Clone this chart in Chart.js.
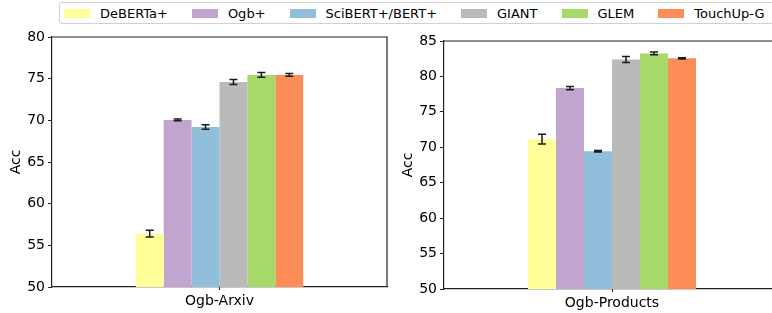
<!DOCTYPE html>
<html>
<head>
<meta charset="utf-8">
<script src="https://cdn.jsdelivr.net/npm/chart.js@4.4.1/dist/chart.umd.min.js"></script>
<style>
  html, body { margin: 0; padding: 0; background: #fff; overflow: hidden; width: 772px; height: 313px; }
  .panel { position: absolute; top: 0; height: 313px; }
  #left { left: 0; width: 390px; }
  #right { left: 390px; width: 390px; }
  #legend {
    position: absolute; left: 59px; top: 2px; height: 20px; width: 760px;
    border: 1px solid #d0d0d0; border-radius: 3px; background: #fff;
    display: flex; align-items: center; padding-left: 4px;
    font-family: "DejaVu Sans", sans-serif; font-size: 13px; color: #000; z-index: 2;
  }
  .item { display: flex; align-items: center; margin-right: 24px; white-space: nowrap; }
  .swatch { width: 26px; height: 9px; margin-right: 10px; }
</style>
</head>
<body>
<div id="legend"></div>
<div class="panel" id="left"><canvas id="arxiv"></canvas></div>
<div class="panel" id="right"><canvas id="products"></canvas></div>
<script>
// series and values
const methods = ['DeBERTa+', 'Ogb+', 'SciBERT+/BERT+', 'GIANT', 'GLEM', 'TouchUp-G']
const colors = ['#ffff99', '#c2a5cf', '#91bfdb', '#bababa', '#a6d96a', '#fc8d59']

const arxivLabels = ['Ogb-Arxiv']
const arxivAcc = [56.4, 70.05, 69.2, 74.6, 75.45, 75.45]
const arxivErr = [0.4, 0.1, 0.26, 0.3, 0.28, 0.16]
const arxivTicks = [50, 55, 60, 65, 70, 75, 80]

const productsLabels = ['Ogb-Products']
const productsAcc = [71.15, 78.35, 69.45, 82.4, 83.25, 82.55]
const productsErr = [0.68, 0.23, 0.1, 0.42, 0.2, 0.1]
const productsTicks = [50, 55, 60, 65, 70, 75, 80, 85]

Chart.defaults.font.family = '"DejaVu Sans", sans-serif'
Chart.defaults.color = '#000'

// html legend shared by both panels
const legend = document.getElementById('legend')
methods.forEach((m, i) => {
  const item = document.createElement('div')
  item.className = 'item'
  item.innerHTML = `<span class="swatch" style="background:${colors[i]}"></span><span>${m}</span>`
  legend.appendChild(item)
})

// error bars on top of each bar
const errorBars = {
  id: 'errorBars',
  afterDatasetsDraw(chart, args, opts) {
    const ctx = chart.ctx
    const y = chart.scales.y
    ctx.save()
    ctx.strokeStyle = '#1a1a1a'
    ctx.lineWidth = 1.5
    chart.data.datasets.forEach((ds, i) => {
      const bar = chart.getDatasetMeta(i).data[0]
      const v = ds.data[0], e = opts.errors[i]
      const top = y.getPixelForValue(v + e)
      const bot = y.getPixelForValue(v - e)
      ctx.beginPath()
      ctx.moveTo(bar.x, top); ctx.lineTo(bar.x, bot)
      ctx.moveTo(bar.x - 4, top); ctx.lineTo(bar.x + 4, top)
      ctx.moveTo(bar.x - 4, bot); ctx.lineTo(bar.x + 4, bot)
      ctx.stroke()
    })
    ctx.restore()
  }
}

// top and right spines
const frame = {
  id: 'frame',
  afterDraw(chart) {
    const {ctx, chartArea: a} = chart
    ctx.save()
    ctx.strokeStyle = '#222'
    ctx.lineWidth = 1.2
    ctx.beginPath()
    ctx.moveTo(a.left, a.top); ctx.lineTo(a.right, a.top); ctx.lineTo(a.right, a.bottom)
    ctx.stroke()
    ctx.restore()
  }
}

function makeChart(id, labels, acc, err, ticks, pad, yWidth, xHeight, titlePad) {
  return new Chart(document.getElementById(id), {
    type: 'bar',
    data: {
      labels: labels,
      datasets: methods.map((m, i) => ({
        label: m,
        data: [acc[i]],
        backgroundColor: colors[i],
        borderWidth: 0
      }))
    },
    options: {
      responsive: true,
      maintainAspectRatio: false,
      animation: false,
      categoryPercentage: 0.5,
      barPercentage: 1.0,
      layout: { padding: pad },
      plugins: {
        legend: { display: false },
        tooltip: { enabled: false },
        errorBars: { errors: err }
      },
      scales: {
        x: {
          grid: { display: true, drawOnChartArea: false, offset: false, tickLength: 3, color: '#222' },
          border: { color: '#222', width: 1.2 },
          ticks: { font: { size: 14 }, padding: 3 },
          afterFit: s => { s.height = xHeight }
        },
        y: {
          min: ticks[0],
          max: ticks[ticks.length - 1],
          afterBuildTicks: s => { s.ticks = ticks.map(v => ({value: v})) },
          grid: { drawOnChartArea: false, tickLength: 4, color: '#222' },
          border: { color: '#222', width: 1.2 },
          ticks: { font: { size: 14 }, padding: 3 },
          title: { display: true, text: 'Acc', font: { size: 14 }, padding: { top: titlePad, bottom: 0 } },
          afterFit: s => { s.width = yWidth }
        }
      }
    },
    plugins: [errorBars, frame]
  })
}

makeChart('arxiv', arxivLabels, arxivAcc, arxivErr, arxivTicks,
  { top: 37, right: 3, bottom: 0, left: 0 }, 52, 26, 8)
makeChart('products', productsLabels, productsAcc, productsErr, productsTicks,
  { top: 41, right: 0, bottom: 0, left: 0 }, 54, 24, 10)
</script>
</body>
</html>
